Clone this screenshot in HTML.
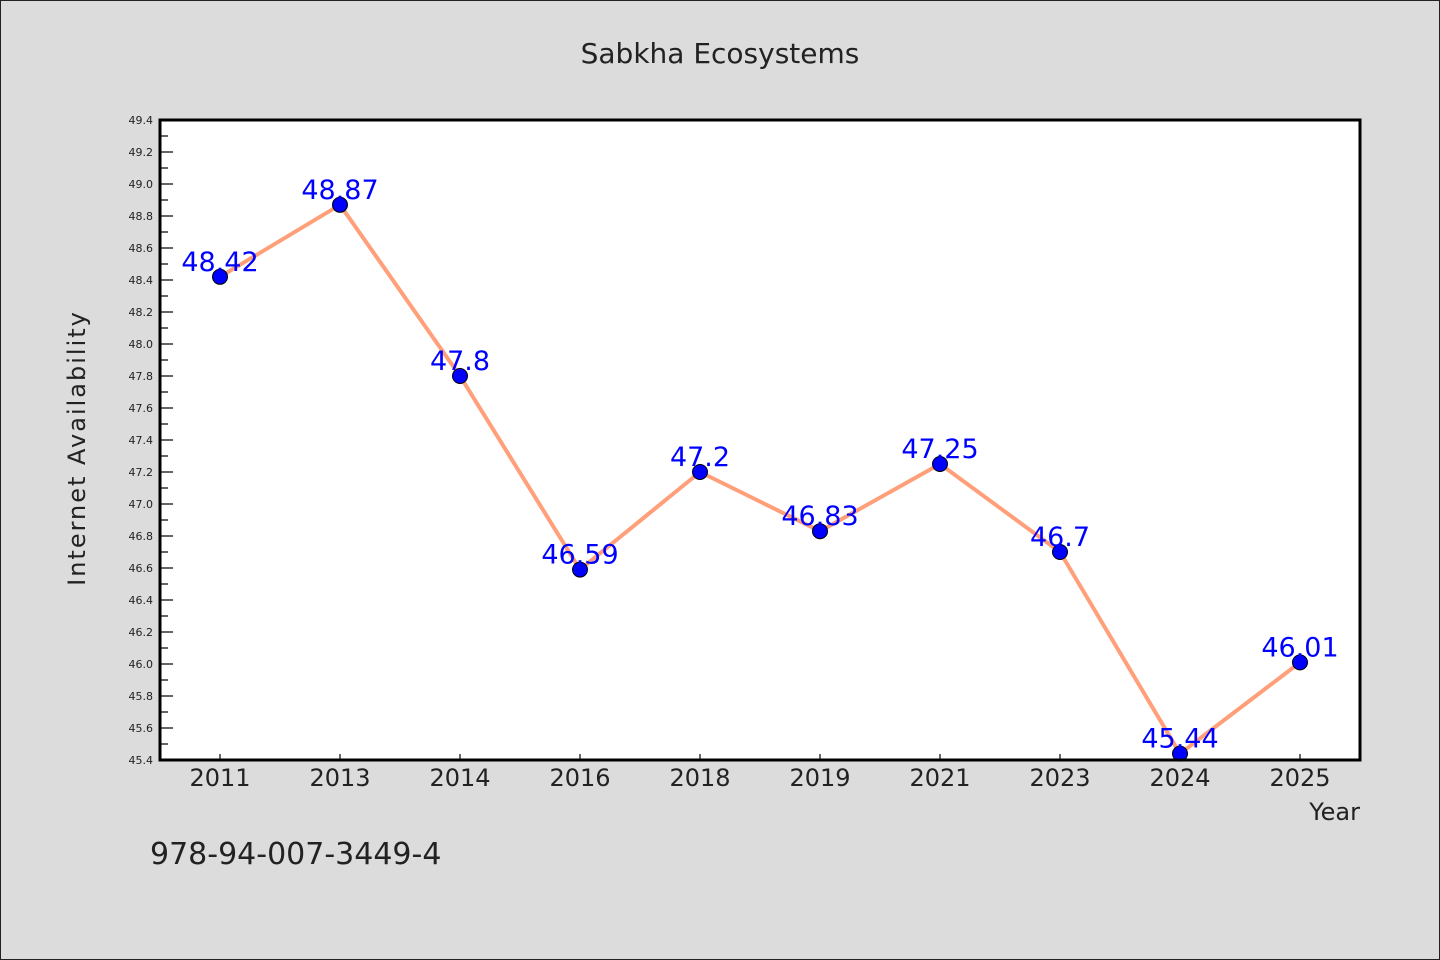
<!DOCTYPE html>
<html><head><meta charset="utf-8"><style>
body{margin:0;background:#dcdcdc;}
svg{display:block;font-family:"WenQuanYi Zen Hei","DejaVu Sans",sans-serif;}
</style></head><body>
<svg id="chart" width="1440" height="960">
<rect x="0.5" y="0.5" width="1439" height="959" fill="#dcdcdc" stroke="#222"/>
<text x="720" y="63" text-anchor="middle" font-size="28" fill="#222">Sabkha Ecosystems</text>
<rect x="160" y="120" width="1200" height="640" fill="#fff"/>
<g id="yticks"></g>
<g id="xticks"></g>
<g id="series"></g>
<rect x="160" y="120" width="1200" height="640" fill="none" stroke="#000" stroke-width="3"/>
<text transform="translate(85,448) rotate(-90)" text-anchor="middle" font-size="24" fill="#222" letter-spacing="2">Internet Availability</text>
<text x="1360" y="820" text-anchor="end" font-size="24" fill="#222">Year</text>
<text x="150" y="864" font-size="30" fill="#222">978-94-007-3449-4</text>
</svg>
<script>
const categories=["2011","2013","2014","2016","2018","2019","2021","2023","2024","2025"];
const values=[48.42,48.87,47.8,46.59,47.2,46.83,47.25,46.7,45.44,46.01];
const valueLabels=["48.42","48.87","47.8","46.59","47.2","46.83","47.25","46.7","45.44","46.01"];
const yMin=45.4,yMax=49.4;
const ns="http://www.w3.org/2000/svg";
const L=160,R=1360,T=120,B=760;
function xs(i){return L+(R-L)/categories.length*(i+0.5);}
function ys(v){return B-(v-yMin)/(yMax-yMin)*(B-T);}
function mk(tag,attrs,parent){const e=document.createElementNS(ns,tag);for(const k in attrs)e.setAttribute(k,attrs[k]);parent.appendChild(e);return e;}
const yg=document.getElementById('yticks'),xg=document.getElementById('xticks'),sg=document.getElementById('series');
for(let k=0;k<=40;k++){
 const v=yMin+k*0.1,y=ys(v),major=k%2===0;
 const t=mk('line',{x1:L,x2:L+(major?13:8),y1:y,y2:y,stroke:'#000','stroke-width':1.2},yg);
 
 
 if(major){const tx=mk('text',{x:153,y:y+4,'text-anchor':'end','font-size':11,fill:'#222'},yg);tx.textContent=v.toFixed(1);
 
 }
}
categories.forEach((c,i)=>{
 const x=xs(i);
 const t=mk('line',{x1:x,x2:x,y1:B,y2:B-6,stroke:'#000','stroke-width':1.2},xg);
 
 
 const tx=mk('text',{x:x,y:786,'text-anchor':'middle','font-size':24,fill:'#222'},xg);tx.textContent=c;
 
 
});
const line=mk('polyline',{points:values.map((v,i)=>xs(i)+','+ys(v)).join(' '),fill:'none',stroke:'#ffa07a','stroke-width':4,'stroke-linejoin':'round'},sg);


values.forEach((v,i)=>{
 const c=mk('circle',{cx:xs(i),cy:ys(v),r:7.5,fill:'#0000ff',stroke:'#000','stroke-width':1},sg);
 
 
});
values.forEach((v,i)=>{
 const t=mk('text',{x:xs(i),y:ys(v)-6,'text-anchor':'middle','font-size':27,fill:'#0000ff'},sg);t.textContent=valueLabels[i];
 
 
});
</script>
</body></html>
